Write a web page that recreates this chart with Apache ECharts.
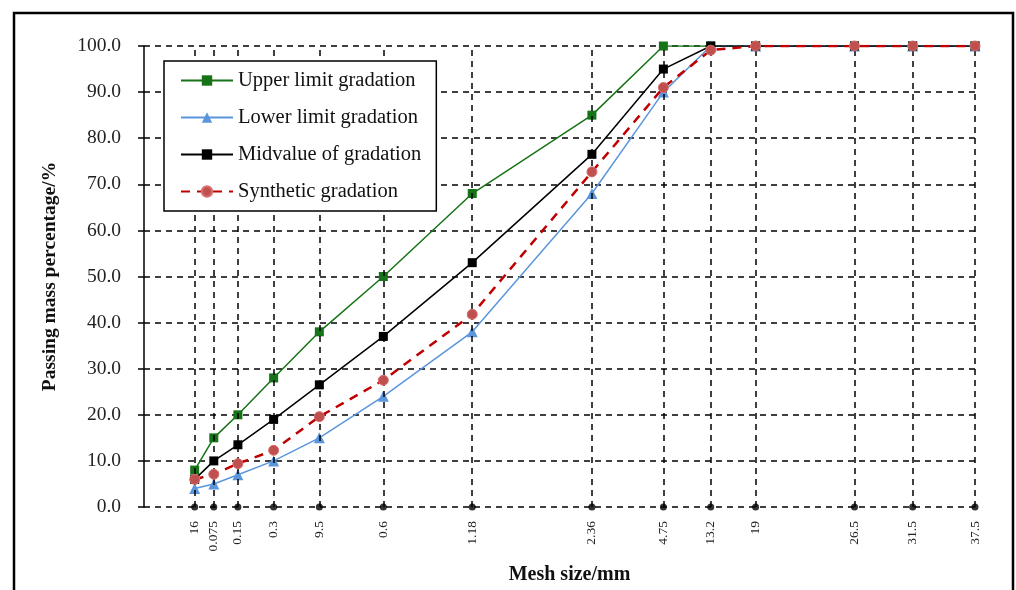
<!DOCTYPE html>
<html>
<head>
<meta charset="utf-8">
<script src="https://cdn.jsdelivr.net/npm/echarts@6/dist/echarts.min.js"></script>
<style>
  html, body { margin: 0; padding: 0; background: #fff; }
  #chart { width: 1016px; height: 590px; }
</style>
</head>
<body>
<div id="chart"></div>
<script>
// Sieve labels, in the order they sit along the horizontal axis
const sieveLabels = ['16', '0.075', '0.15', '0.3', '9.5', '0.6', '1.18', '2.36', '4.75', '13.2', '19', '26.5', '31.5', '37.5'];
// Horizontal plotting position of each sieve (axis units, 0–100)
const sievePos = [6.1, 8.4, 11.3, 15.6, 21.1, 28.8, 39.5, 53.9, 62.5, 68.2, 73.6, 85.5, 92.5, 100];

// Passing mass percentage (%) at each sieve
const upperLimit = [8, 15, 20, 28, 38, 50, 68, 85, 100, 100, 100, 100, 100, 100];
const lowerLimit = [4, 5, 7, 10, 15, 24, 38, 68, 90, 100, 100, 100, 100, 100];
const midValue   = [6, 10, 13.5, 19, 26.5, 37, 53, 76.5, 95, 100, 100, 100, 100, 100];
const synthetic  = [6, 7.1, 9.4, 12.3, 19.6, 27.5, 41.8, 72.7, 91, 99.1, 100, 100, 100, 100];

const yTicks = { min: 0, max: 100, interval: 10 };

const serif = 'Liberation Serif, Times New Roman, serif';
const pair = ys => sievePos.map((x, i) => [x, ys[i]]);

const chart = echarts.init(document.getElementById('chart'), null, { renderer: 'canvas' });

chart.setOption({
  backgroundColor: '#fff',
  animation: false,
  textStyle: { fontFamily: serif },
  graphic: [{
    type: 'rect',
    shape: { x: 14, y: 13, width: 999, height: 620 },
    style: { fill: 'none', stroke: '#000', lineWidth: 2.5 },
    silent: true,
    z: 100
  }],
  grid: { left: 144, right: 41, top: 46, bottom: 82, containLabel: false },
  legend: {
    orient: 'vertical',
    left: 164,
    top: 61,
    z: 20,
    padding: [9, 15, 9, 16],
    itemGap: 16,
    itemWidth: 52,
    itemHeight: 13,
    backgroundColor: '#fff',
    borderColor: '#000',
    borderWidth: 1.5,
    textStyle: { fontFamily: serif, fontSize: 20.5, color: '#111', lineHeight: 21 },
    data: ['Upper limit gradation', 'Lower limit gradation', 'Midvalue of gradation', 'Synthetic gradation']
  },
  xAxis: {
    type: 'value',
    min: 0,
    max: 100,
    axisLine: { show: false },
    axisTick: { show: false },
    splitLine: { show: false },
    axisLabel: {
      customValues: sievePos,
      rotate: 90,
      margin: 14,
      fontFamily: serif,
      fontSize: 13.5,
      color: '#222',
      formatter: v => {
        const i = sievePos.indexOf(v);
        return i >= 0 ? sieveLabels[i] : '';
      }
    },
    name: 'Mesh size/mm',
    nameLocation: 'middle',
    nameGap: 58,
    nameTextStyle: { fontFamily: serif, fontSize: 20, fontWeight: 'bold', color: '#111', padding: [0, 0, 0, 20] }
  },
  yAxis: {
    type: 'value',
    min: yTicks.min,
    max: yTicks.max,
    interval: yTicks.interval,
    axisLine: { show: true, lineStyle: { color: '#000', width: 1.5 } },
    axisTick: { show: true, inside: false, length: 6, lineStyle: { color: '#000', width: 1.5 } },
    axisLabel: {
      margin: 23,
      fontFamily: serif,
      fontSize: 19.5,
      color: '#222',
      formatter: v => v.toFixed(1)
    },
    splitLine: { show: true, lineStyle: { color: '#000', width: 1.5, type: [6, 5] } },
    name: 'Passing mass percentage/%',
    nameLocation: 'middle',
    nameGap: 84,
    nameTextStyle: { fontFamily: serif, fontSize: 19.5, fontWeight: 'bold', color: '#111' }
  },
  series: [
    {
      // sieve markers on the baseline, with a dashed guide at each sieve
      type: 'scatter',
      data: sievePos.map(x => [x, 0]),
      symbol: 'circle',
      symbolSize: 7,
      itemStyle: { color: '#000' },
      silent: true,
      z: 5,
      markLine: {
        silent: true,
        symbol: 'none',
        label: { show: false },
        lineStyle: { color: '#000', width: 1.5, type: [6, 5] },
        data: sievePos.map(x => ({ xAxis: x }))
      }
    },
    {
      name: 'Upper limit gradation',
      type: 'line',
      data: pair(upperLimit),
      symbol: 'rect',
      symbolSize: 9,
      lineStyle: { color: '#177317', width: 1.5 },
      itemStyle: { color: '#177317' },
      z: 3
    },
    {
      name: 'Lower limit gradation',
      type: 'line',
      data: pair(lowerLimit),
      symbol: 'triangle',
      symbolSize: 11,
      lineStyle: { color: '#5b96dc', width: 1.5 },
      itemStyle: { color: '#5b96dc' },
      z: 3
    },
    {
      name: 'Midvalue of gradation',
      type: 'line',
      data: pair(midValue),
      symbol: 'rect',
      symbolSize: 9,
      lineStyle: { color: '#000', width: 1.5 },
      itemStyle: { color: '#000' },
      z: 4
    },
    {
      name: 'Synthetic gradation',
      type: 'line',
      data: pair(synthetic),
      symbol: 'circle',
      symbolSize: 10,
      lineStyle: { color: '#c00000', width: 2.5, type: [9, 7] },
      itemStyle: { color: '#c0504d', borderColor: '#d87070', borderWidth: 1 },
      z: 6
    }
  ]
});
</script>
</body>
</html>
